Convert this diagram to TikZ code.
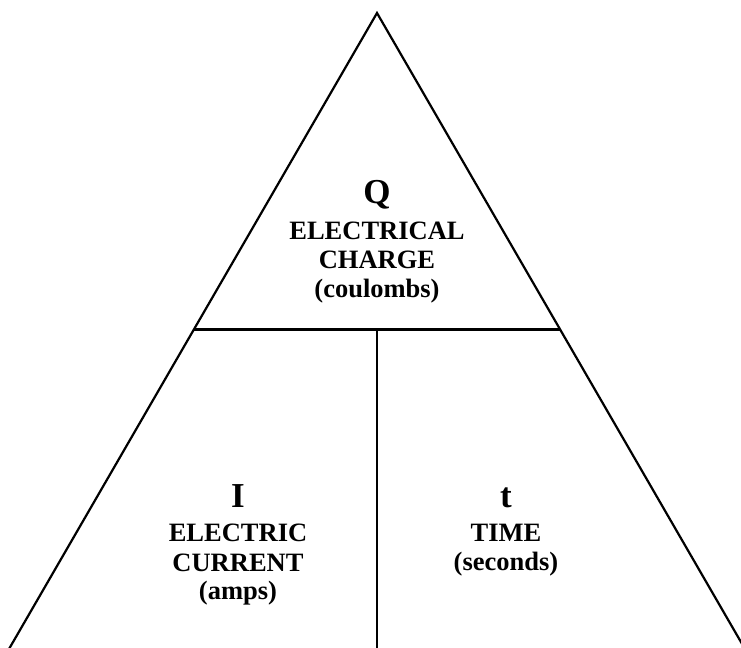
\documentclass[tikz,border=0pt]{standalone}
\usepackage{fontspec}
\setmainfont{Liberation Serif}
\usetikzlibrary{calc}
\begin{document}
\begin{tikzpicture}[x=1bp,y=-1bp,
  edge/.style={line width=2.2bp,black},
  big/.style={anchor=base,inner sep=0pt,font=\bfseries\fontsize{35bp}{36bp}\selectfont},
  lbl/.style={anchor=base,inner sep=0pt,font=\bfseries\fontsize{26.5bp}{30bp}\selectfont}]
\useasboundingbox (0,0) rectangle (741,648);
\clip (0,0) rectangle (741,648);
\coordinate (A) at (377,13);
\coordinate (BL) at (9,649);
\coordinate (BR) at (745,649);
\coordinate (ML) at ($(A)!0.4976!(BL)$);
\coordinate (MR) at ($(A)!0.4976!(BR)$);
\coordinate (MC) at (377,329);
\coordinate (BC) at (377,649);
\draw[edge,line join=miter] (BL) -- (A) -- (BR);
\draw[edge] (ML) -- (MR);
\draw[edge] (MC) -- (BC);
\node[big] (q) at (377,204) {Q};
\node[lbl] (q1) at (377,239) {ELECTRICAL};
\node[lbl] (q2) at (377,268) {CHARGE};
\node[lbl] (q3) at (377,297) {(coulombs)};
\node[big] (i) at (238,507) {I};
\node[lbl] (i1) at (238,541) {ELECTRIC};
\node[lbl] (i2) at (238,571) {CURRENT};
\node[lbl] (i3) at (238,599) {(amps)};
\node[big] (t) at (506,507) {t};
\node[lbl] (t1) at (506,541) {TIME};
\node[lbl] (t2) at (506,570) {(seconds)};
\end{tikzpicture}
\end{document}
